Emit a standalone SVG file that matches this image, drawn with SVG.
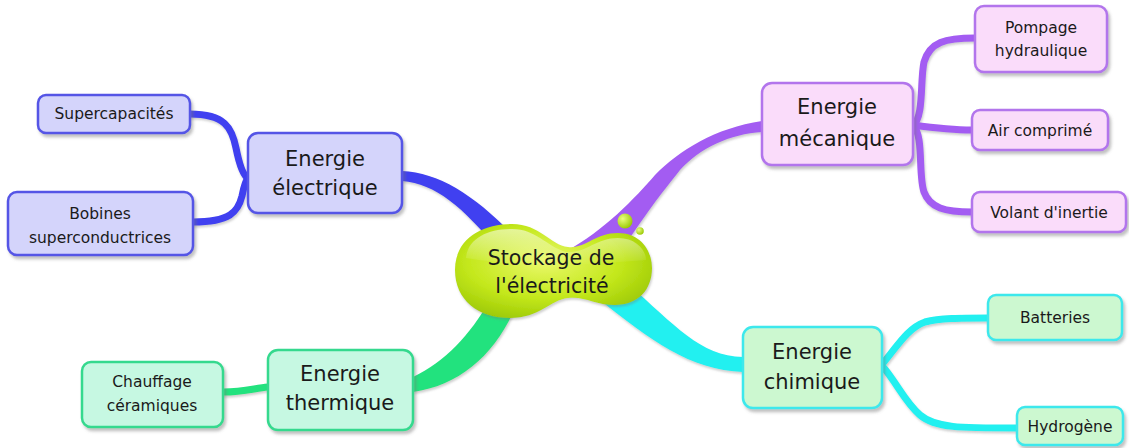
<svg xmlns="http://www.w3.org/2000/svg" width="1129" height="448" viewBox="0 0 1129 448">
  <defs>
    <style>
      text { font-family: "Comic Sans MS", "DejaVu Sans", sans-serif; fill: #1a1a1a; text-anchor: middle; }
      .main { font-size: 21px; }
      .sub { font-size: 15.5px; }
      .centre { font-size: 20.5px; }
      .box { stroke-width: 2.5; filter: url(#shadow); }
      .elec { fill: #d4d4fb; stroke: #5555e6; }
      .meca { fill: #fadcfa; stroke: #b274ec; }
      .therm { fill: #c6f8e2; stroke: #35d98e; }
      .chim { fill: #ccf8d0; stroke: #3ce8ec; }
      .link { fill: none; stroke-width: 7; stroke-linecap: round; }
    </style>
    <filter id="shadow" x="-10%" y="-10%" width="130%" height="140%">
      <feDropShadow dx="2" dy="3" stdDeviation="1.5" flood-color="#777" flood-opacity="0.45"/>
    </filter>
    <filter id="lshadow" x="-10%" y="-10%" width="130%" height="140%">
      <feDropShadow dx="1" dy="2" stdDeviation="1" flood-color="#777" flood-opacity="0.35"/>
    </filter>
    <radialGradient id="blobFill" cx="0.45" cy="0.4" r="0.7">
      <stop offset="0" stop-color="#e9f86a"/>
      <stop offset="0.55" stop-color="#c4e81c"/>
      <stop offset="1" stop-color="#94c200"/>
    </radialGradient>
    <linearGradient id="shine" x1="0" y1="0" x2="0" y2="1">
      <stop offset="0" stop-color="#ffffff" stop-opacity="0.55"/>
      <stop offset="1" stop-color="#ffffff" stop-opacity="0"/>
    </linearGradient>
    <radialGradient id="bubble" cx="0.35" cy="0.35" r="0.7">
      <stop offset="0" stop-color="#eaff80"/>
      <stop offset="1" stop-color="#98c800"/>
    </radialGradient>
  </defs>

  <rect width="1129" height="448" fill="#ffffff"/>

  <!-- connectors -->
  <g id="connectors" filter="url(#lshadow)">
    <!-- trunk branches from the centre, tucked under the central blob -->
    <path d="M402,171 C440,173 475,195 518,240 L500,252 C462,206 436,184 402,181 Z" fill="#3f3ff0"/>
    <path d="M762,121 C715,128 680,150 655,175 C635,198 605,230 565,252 L622,250 C645,215 660,195 680,170 C700,148 730,134 762,132 Z" fill="#a35cf2"/>
    <path d="M413,377 C445,362 470,335 490,300 L516,306 C495,355 460,385 413,392 Z" fill="#22e27e"/>
    <path d="M628,284 C675,325 700,356 743,357 L743,372 C690,370 650,340 600,300 Z" fill="#22f0f0"/>

    <!-- Energie électrique -->
    <path class="link" stroke="#3f3ff0" d="M190,114 C225,114 232,128 236,148 C240,168 244,176 248,178"/>
    <path class="link" stroke="#3f3ff0" d="M193,222 C230,222 238,212 242,196 C244,186 246,180 248,178"/>
    <!-- Energie mécanique -->
    <path class="link" stroke="#a35cf2" d="M913,125 C924,118 920,80 924,62 C930,42 945,38 975,38"/>
    <path class="link" stroke="#a35cf2" d="M913,125 C935,128 950,130 972,130"/>
    <path class="link" stroke="#a35cf2" d="M913,125 C924,135 918,175 924,192 C930,208 945,212 972,212"/>
    <!-- Energie thermique -->
    <path class="link" stroke="#22e27e" d="M223,392 C245,392 255,388 268,387"/>
    <!-- Energie chimique -->
    <path class="link" stroke="#22f0f0" d="M884,362 C898,345 908,328 925,322 C940,318 960,318 988,318"/>
    <path class="link" stroke="#22f0f0" d="M884,368 C898,385 905,402 920,415 C935,428 960,428 1017,428"/>
  </g>

  <!-- central topic -->
  <g id="centre">
    <path d="M455,270 C455,240 480,224 512,224 C540,224 550,245 568,247 C585,249 595,233 618,233 C640,233 652,250 652,268 C652,290 638,305 615,305 C595,305 585,296 568,298 C550,300 540,318 510,318 C478,318 455,300 455,270 Z" fill="url(#blobFill)" filter="url(#lshadow)"/>
    <path d="M466,258 C468,238 488,229 512,229 C536,229 546,246 566,252 C585,254 596,238 618,238 C636,238 646,250 646,260 C620,262 590,264 566,266 C530,266 490,262 466,258 Z" fill="url(#shine)"/>
    <circle cx="625" cy="221" r="7.5" fill="url(#bubble)"/>
    <circle cx="640" cy="231" r="3.8" fill="url(#bubble)"/>
    <text class="centre" x="551" y="265">Stockage de</text>
    <text class="centre" x="552" y="293">l'électricité</text>
  </g>

  <!-- main topics -->
  <g id="energie-electrique">
    <rect class="box elec" x="248" y="133" width="154" height="80" rx="10"/>
    <text class="main" x="325" y="166">Energie</text>
    <text class="main" x="325" y="195">électrique</text>
  </g>
  <g id="energie-mecanique">
    <rect class="box meca" x="762" y="83" width="151" height="82" rx="10"/>
    <text class="main" x="837" y="114">Energie</text>
    <text class="main" x="837" y="146">mécanique</text>
  </g>
  <g id="energie-thermique">
    <rect class="box therm" x="268" y="350" width="145" height="80" rx="10"/>
    <text class="main" x="340" y="381">Energie</text>
    <text class="main" x="340" y="410">thermique</text>
  </g>
  <g id="energie-chimique">
    <rect class="box chim" x="743" y="327" width="139" height="81" rx="10"/>
    <text class="main" x="812" y="359">Energie</text>
    <text class="main" x="812" y="389">chimique</text>
  </g>

  <!-- sub topics -->
  <g id="supercapacites">
    <rect class="box elec" x="38" y="95" width="152" height="38" rx="8"/>
    <text class="sub" x="114" y="119">Supercapacités</text>
  </g>
  <g id="bobines">
    <rect class="box elec" x="8" y="192" width="185" height="63" rx="9"/>
    <text class="sub" x="100" y="219">Bobines</text>
    <text class="sub" x="100" y="243">superconductrices</text>
  </g>
  <g id="pompage">
    <rect class="box meca" x="975" y="6" width="132" height="66" rx="9"/>
    <text class="sub" x="1041" y="33">Pompage</text>
    <text class="sub" x="1041" y="56">hydraulique</text>
  </g>
  <g id="air-comprime">
    <rect class="box meca" x="972" y="110" width="136" height="40" rx="8"/>
    <text class="sub" x="1040" y="136">Air comprimé</text>
  </g>
  <g id="volant">
    <rect class="box meca" x="972" y="192" width="154" height="40" rx="8"/>
    <text class="sub" x="1049" y="218">Volant d'inertie</text>
  </g>
  <g id="chauffage">
    <rect class="box therm" x="82" y="362" width="141" height="65" rx="9"/>
    <text class="sub" x="152" y="387">Chauffage</text>
    <text class="sub" x="152" y="411">céramiques</text>
  </g>
  <g id="batteries">
    <rect class="box chim" x="988" y="295" width="134" height="45" rx="8"/>
    <text class="sub" x="1055" y="323">Batteries</text>
  </g>
  <g id="hydrogene">
    <rect class="box chim" x="1017" y="407" width="106" height="38" rx="8"/>
    <text class="sub" x="1070" y="432">Hydrogène</text>
  </g>
</svg>
